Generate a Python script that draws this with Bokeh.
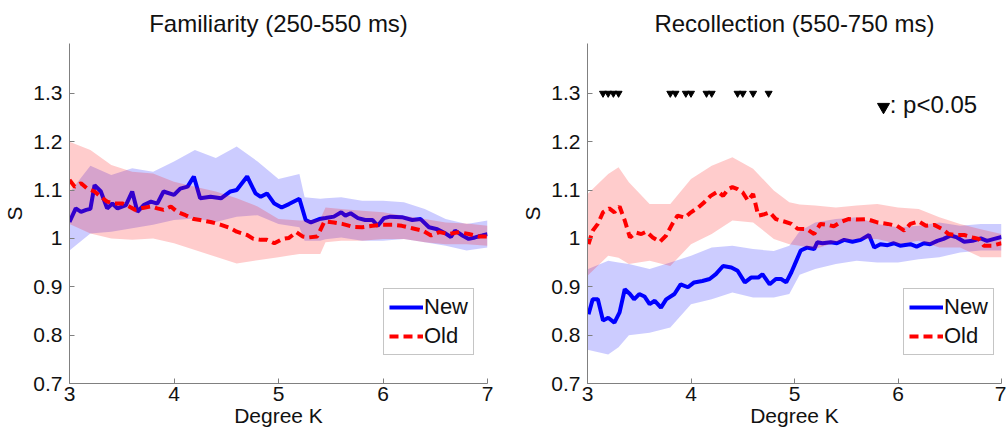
from bokeh.plotting import figure
from bokeh.models import (Range1d, FixedTicker, CustomJSTickFormatter, Legend, LegendItem)
from bokeh.layouts import row
from bokeh.core.properties import value
from bokeh.embed import file_html
from bokeh.resources import INLINE

# ---------------- data ----------------
x_ticks = [3, 4, 5, 6, 7]
y_ticks = [0.7, 0.8, 0.9, 1.0, 1.1, 1.2, 1.3]

# Familiarity panel
fam_new_k = [3.00,3.06,3.11,3.16,3.20,3.24,3.30,3.36,3.41,3.46,3.54,3.60,3.65,3.71,3.78,3.84,3.90,4.00,4.06,4.13,
             4.19,4.25,4.35,4.45,4.54,4.60,4.70,4.78,4.83,4.89,4.96,5.03,5.10,5.20,5.26,5.31,5.39,5.45,5.53,5.60,
             5.64,5.69,5.76,5.83,5.90,5.95,6.01,6.07,6.18,6.28,6.36,6.44,6.52,6.60,6.65,6.69,6.76,6.82,6.88,6.95,7.00]
fam_new_s = [1.034,1.062,1.055,1.059,1.061,1.110,1.097,1.062,1.072,1.062,1.069,1.097,1.055,1.069,1.076,1.072,1.097,1.090,1.103,1.107,
             1.128,1.083,1.086,1.083,1.097,1.100,1.128,1.093,1.086,1.093,1.072,1.064,1.071,1.082,1.038,1.033,1.040,1.042,1.045,1.054,
             1.047,1.052,1.042,1.038,1.038,1.026,1.042,1.045,1.044,1.038,1.040,1.023,1.019,1.010,1.003,1.016,1.006,0.999,1.002,1.006,1.009]
fam_old_k = [3.00,3.05,3.11,3.17,3.24,3.30,3.36,3.43,3.51,3.57,3.63,3.70,3.78,3.84,3.90,3.97,4.03,4.11,4.19,4.25,
             4.35,4.45,4.54,4.60,4.70,4.76,4.83,4.89,4.96,5.04,5.10,5.17,5.23,5.29,5.37,5.44,5.53,5.61,5.71,5.80,
             5.90,5.99,6.09,6.18,6.28,6.38,6.46,6.54,6.63,6.73,6.82,6.92,7.00]
fam_old_s = [1.121,1.107,1.114,1.103,1.097,1.086,1.076,1.072,1.072,1.066,1.059,1.063,1.066,1.062,1.059,1.066,1.055,1.048,1.040,1.038,
             1.034,1.028,1.021,1.014,1.007,0.999,0.997,0.997,0.990,0.999,1.001,1.013,1.004,1.002,1.004,1.035,1.033,1.030,1.024,1.023,
             1.026,1.028,1.028,1.026,1.021,1.016,1.006,1.013,1.009,1.013,1.009,1.004,1.004]
fam_band_k = [3.0,3.2,3.4,3.6,3.8,4.0,4.2,4.4,4.6,4.8,5.0,5.2,5.25,5.4,5.45,5.6,5.8,6.0,6.2,6.4,6.6,6.8,7.0]
fam_new_hi = [1.095,1.150,1.131,1.145,1.138,1.159,1.183,1.166,1.190,1.159,1.123,1.133,1.085,1.082,1.083,1.085,1.078,1.078,1.075,1.061,1.040,1.030,1.037]
fam_new_lo = [0.975,1.010,1.014,1.021,1.028,1.038,1.041,1.034,1.045,1.048,1.030,1.023,0.995,0.995,0.998,1.002,0.995,0.995,0.999,0.992,0.985,0.975,0.981]
fam_old_hi = [1.200,1.183,1.152,1.138,1.134,1.117,1.107,1.097,1.083,1.066,1.040,1.037,1.037,1.040,1.064,1.061,1.057,1.054,1.047,1.040,1.033,1.031,1.026]
fam_old_lo = [1.030,1.010,1.000,0.997,1.000,0.990,0.976,0.962,0.948,0.955,0.961,0.968,0.968,0.968,0.992,0.995,0.995,0.999,0.999,0.992,0.988,0.988,0.985]

# Recollection panel
rec_new_k = [3.01,3.05,3.10,3.15,3.20,3.26,3.31,3.36,3.41,3.45,3.50,3.55,3.60,3.65,3.71,3.76,3.84,3.90,3.97,4.03,
             4.11,4.18,4.24,4.31,4.39,4.45,4.52,4.58,4.65,4.69,4.76,4.82,4.87,4.92,4.97,5.01,5.06,5.12,5.19,5.22,
             5.27,5.35,5.41,5.48,5.56,5.64,5.72,5.77,5.83,5.90,5.96,6.02,6.12,6.18,6.25,6.31,6.38,6.44,6.51,6.57,
             6.64,6.72,6.80,6.86,6.93,7.00]
rec_new_s = [0.843,0.874,0.874,0.830,0.836,0.826,0.847,0.895,0.885,0.874,0.885,0.880,0.864,0.871,0.857,0.874,0.885,0.905,0.899,0.909,
             0.912,0.916,0.926,0.943,0.940,0.933,0.909,0.919,0.919,0.926,0.905,0.916,0.916,0.909,0.930,0.950,0.975,0.981,0.978,0.992,
             0.990,0.992,0.990,0.997,0.993,0.997,1.007,0.981,0.988,0.986,0.990,0.985,0.988,0.983,0.990,0.988,0.995,0.999,1.006,1.002,
             0.993,0.995,1.000,0.995,0.999,1.003]
rec_old_k = [3.01,3.05,3.10,3.15,3.21,3.26,3.31,3.36,3.41,3.47,3.52,3.57,3.63,3.70,3.76,3.82,3.87,3.94,4.00,4.07,
             4.13,4.19,4.26,4.31,4.36,4.40,4.45,4.50,4.55,4.60,4.65,4.71,4.76,4.82,4.90,4.97,5.03,5.12,5.19,5.25,
             5.32,5.38,5.44,5.52,5.60,5.70,5.80,5.90,5.99,6.06,6.12,6.20,6.27,6.35,6.43,6.49,6.55,6.64,6.72,6.78,
             6.83,6.91,7.00]
rec_old_s = [0.988,1.016,1.030,1.054,1.062,1.054,1.066,1.037,1.002,1.012,1.009,1.014,1.002,0.993,1.006,1.030,1.047,1.043,1.054,1.064,
             1.075,1.088,1.097,1.088,1.102,1.106,1.102,1.095,1.078,1.092,1.047,1.050,1.054,1.040,1.035,1.030,1.020,1.019,1.009,1.030,
             1.028,1.025,1.033,1.040,1.039,1.040,1.033,1.030,1.026,1.016,1.030,1.035,1.026,1.028,1.019,1.009,1.007,1.007,1.002,0.999,
             0.985,0.985,0.990]
rec_band_k = [3.0,3.2,3.3,3.4,3.6,3.8,4.0,4.2,4.4,4.6,4.8,4.95,5.05,5.2,5.4,5.6,5.8,6.0,6.2,6.4,6.6,6.8,7.0]
rec_new_hi = [0.936,0.954,0.950,0.947,0.937,0.950,0.964,0.981,0.985,0.978,0.974,0.985,1.015,1.033,1.040,1.044,1.030,1.023,1.026,1.033,1.026,1.030,1.030]
rec_new_lo = [0.770,0.760,0.775,0.800,0.805,0.816,0.864,0.874,0.888,0.878,0.878,0.885,0.925,0.937,0.947,0.954,0.950,0.950,0.957,0.961,0.971,0.975,0.975]
rec_old_hi = [1.092,1.133,1.147,1.116,1.071,1.071,1.123,1.150,1.168,1.144,1.099,1.075,1.070,1.068,1.064,1.068,1.071,1.064,1.061,1.044,1.030,1.019,1.009]
rec_old_lo = [0.923,0.964,0.960,0.947,0.954,0.943,0.988,1.009,1.037,1.033,0.999,0.988,0.985,0.978,0.992,0.999,0.999,0.988,0.995,0.981,0.981,0.961,0.961]

sig_k = [3.15,3.20,3.25,3.30,3.80,3.85,3.95,4.00,4.15,4.20,4.45,4.50,4.60,4.75]
sig_level = 1.30
sig_note_k = 5.86
sig_note_s = 1.272
sig_note_text = ": p<0.05"

FONT = "Liberation Sans"
BLUE = "#0000ff"
RED = "#ff0000"
AXIS_GRAY = "#808080"


def make_panel(title, new_k, new_s, old_k, old_s, band_k, new_hi, new_lo, old_hi, old_lo,
               border_left, border_right, legend_loc):
    p = figure(width=503, height=434, output_backend="svg", toolbar_location=None,
               x_range=Range1d(3, 7), y_range=Range1d(0.7, 1.403),
               min_border_left=border_left, min_border_right=border_right,
               min_border_top=43, min_border_bottom=51)
    p.outline_line_color = None
    p.grid.visible = False
    p.background_fill_color = "white"
    p.border_fill_color = "white"

    p.title.text = title
    p.title.align = "center"
    p.title.text_font = FONT
    p.title.text_font_size = "24px"
    p.title.text_font_style = "normal"
    p.title.text_color = "#111111"
    p.title.standoff = 14

    for ax in (p.xaxis[0], p.yaxis[0]):
        ax.axis_line_color = AXIS_GRAY
        ax.major_tick_line_color = AXIS_GRAY
        ax.major_tick_in = 5
        ax.major_tick_out = 0
        ax.minor_tick_line_color = None
        ax.major_label_text_font = FONT
        ax.major_label_text_font_size = "21px"
        ax.major_label_text_color = "#111111"
        ax.axis_label_text_font = FONT
        ax.axis_label_text_font_size = "21px"
        ax.axis_label_text_font_style = "normal"
        ax.axis_label_text_color = "#111111"
    p.xaxis.ticker = FixedTicker(ticks=x_ticks)
    p.yaxis.ticker = FixedTicker(ticks=y_ticks)
    p.yaxis.formatter = CustomJSTickFormatter(code="return (Math.round(tick*10)/10).toString();")
    p.xaxis.axis_label = "Degree K"
    p.yaxis.axis_label = "S"
    p.xaxis.major_label_standoff = 3
    p.xaxis.axis_label_standoff = 0
    p.yaxis.major_label_standoff = 7
    p.yaxis.axis_label_standoff = 4

    p.varea(x=band_k, y1=new_lo, y2=new_hi, fill_color=BLUE, fill_alpha=0.2)
    r_new = p.line(new_k, new_s, line_color=BLUE, line_width=4)
    p.varea(x=band_k, y1=old_lo, y2=old_hi, fill_color=RED, fill_alpha=0.2)
    r_old = p.line(old_k, old_s, line_color=RED, line_width=4, line_dash="9 5")

    legend = Legend(items=[LegendItem(label="New", renderers=[r_new]),
                           LegendItem(label="Old", renderers=[r_old])],
                    location=legend_loc, orientation="vertical")
    legend.label_text_font = FONT
    legend.label_text_font_size = "22px"
    legend.label_text_color = "#111111"
    legend.glyph_width = 34
    legend.glyph_height = 22
    legend.label_height = 22
    legend.label_standoff = 1
    legend.spacing = 3
    legend.padding = 5
    legend.margin = 0
    legend.border_line_color = "#8c8c8c"
    legend.border_line_width = 1
    legend.background_fill_alpha = 1.0
    p.add_layout(legend)
    return p


p1 = make_panel("Familiarity (250-550 ms)", fam_new_k, fam_new_s, fam_old_k, fam_old_s,
                fam_band_k, fam_new_hi, fam_new_lo, fam_old_hi, fam_old_lo,
                68, 16, (314, 28))
p2 = make_panel("Recollection (550-750 ms)", rec_new_k, rec_new_s, rec_old_k, rec_old_s,
                rec_band_k, rec_new_hi, rec_new_lo, rec_old_hi, rec_old_lo,
                84, 5, (316, 28))

p2.scatter(x=sig_k, y=[sig_level] * len(sig_k), marker="inverted_triangle", size=7,
           fill_color="black", line_color="black")
p2.scatter(x=[sig_note_k], y=[sig_note_s], marker="inverted_triangle", size=12,
           fill_color="black", line_color="black")
p2.text(x=[sig_note_k + 0.06], y=[sig_note_s + 0.004], text=[sig_note_text],
        text_font=value(FONT), text_font_size="24px", text_baseline="middle",
        text_align="left", text_color="#111111")

layout = row(p1, p2)
open("out.html", "w").write(file_html(layout, INLINE))
